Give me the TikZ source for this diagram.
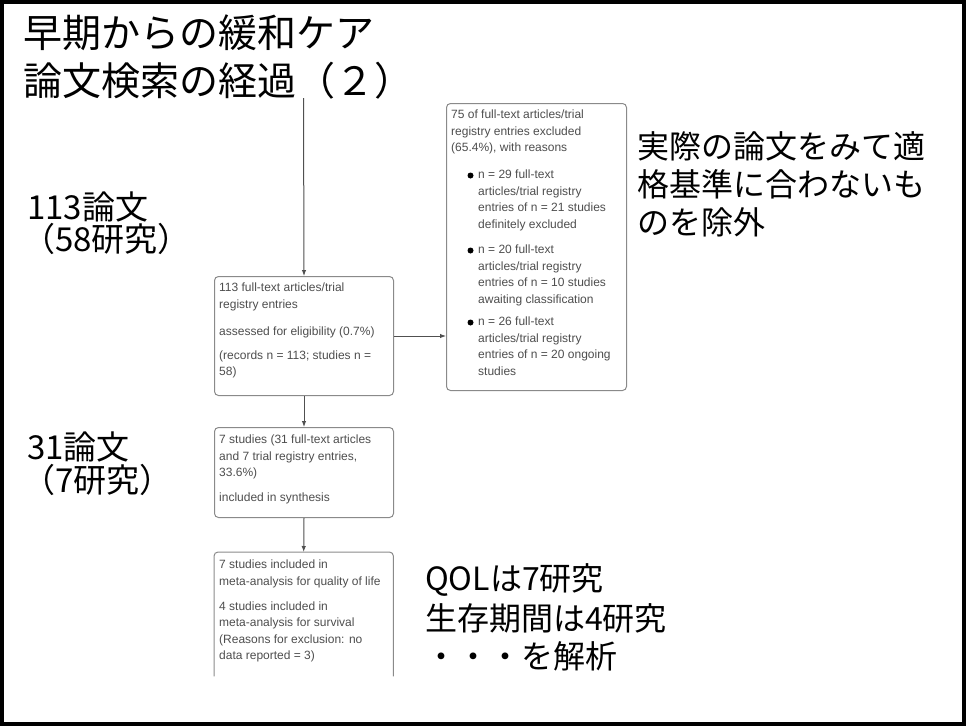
\documentclass[tikz,border=0pt]{standalone}
\usepackage{fontspec}
\setmainfont{Liberation Sans}
\newfontfamily\jp{Noto Sans CJK JP}
\usetikzlibrary{arrows.meta}
\definecolor{boxgray}{HTML}{8A8A8A}
\definecolor{txtgray}{HTML}{4D4D4D}
\definecolor{linegray}{HTML}{505050}
\begin{document}
\begin{tikzpicture}[x=1pt,y=-1pt,
  box/.style={draw=boxgray, line width=1pt, rounded corners=4pt, inner sep=0pt, anchor=north west},
  openbox/.style={draw=none, inner sep=0pt, anchor=north west},
  boxline/.style={draw=boxgray, line width=1pt, rounded corners=4pt},
  txt/.style={font=\fontsize{12}{16.5}\selectfont, text=txtgray, align=left, inner sep=0pt, anchor=north west},
  jtitle/.style={font=\jp\fontsize{39}{45}\selectfont, anchor=west, inner sep=0pt},
  jlabel/.style={font=\jp\fontsize{33}{38}\selectfont, anchor=west, inner sep=0pt},
  jnote/.style={font=\jp\fontsize{32}{38}\selectfont, anchor=west, inner sep=0pt},
  arr/.style={draw=linegray, line width=1pt, -{Latex[length=6pt,width=4.5pt]}},
  bul/.style={fill=black},
]
\useasboundingbox (0,0) rectangle (966,726);
\draw[line width=4pt] (2,2) rectangle (964,724);

% titles and notes
\node[jtitle] (t1) at (23,33) {早期からの緩和ケア};
\node[jtitle] (t2) at (23,81) {論文検索の経過（２）};
\node[jlabel] (l1) at (27,207) {113論文};
\node[jlabel] (l2) at (22,239) {（58研究）};
\node[jlabel] (l3) at (27,447) {31論文};
\node[jlabel] (l4) at (22,480) {（7研究）};
\node[jnote] (r1) at (637,146) {実際の論文をみて適};
\node[jnote] (r2) at (637,184) {格基準に合わないも};
\node[jnote] (r3) at (637,222) {のを除外};
\node[jnote] (q1) at (425,580) {QOLは7研究};
\node[jnote] (q2) at (425,618) {生存期間は4研究};
\node[jnote] (q3) at (425,656) {・・・を解析};

% boxes
\node[box, minimum width=179pt, minimum height=119pt] (a) at (214,276) {};
\node[box, minimum width=180pt, minimum height=287pt] (b) at (446,103) {};
\node[box, minimum width=179pt, minimum height=90pt] (c) at (214,427) {};
\node[openbox, minimum width=179pt, minimum height=124pt] (d) at (214,552) {};
\draw[boxline] (d.south west) -- (d.north west) -- (d.north east) -- (d.south east);

% box texts
\node[txt] (at) at (219,283) {113 full-text articles/trial\\ registry entries\\[11pt] assessed for eligibility (0.7\%)\\[7pt] (records n = 113; studies n =\\ 58)};
\node[txt] (bt) at (451,110) {75 of full-text articles/trial\\ registry entries excluded\\ (65.4\%), with reasons};
\node[txt] (b1) at (478,170) {n = 29 full-text\\ articles/trial registry\\ entries of n = 21 studies\\ definitely excluded};
\node[txt] (b2) at (478,245) {n = 20 full-text\\ articles/trial registry\\ entries of n = 10 studies\\ awaiting classification};
\node[txt] (b3) at (478,317) {n = 26 full-text\\ articles/trial registry\\ entries of n = 20 ongoing\\ studies};
\fill[bul] (b1.north west) ++(-7.5pt,-5.5pt) circle (3pt);
\fill[bul] (b2.north west) ++(-7.5pt,-5.5pt) circle (3pt);
\fill[bul] (b3.north west) ++(-7.5pt,-5.5pt) circle (3pt);
\node[txt] (ct) at (219,435) {7 studies (31 full-text articles\\ and 7 trial registry entries,\\ 33.6\%)\\[8.5pt] included in synthesis};
\node[txt] (dt) at (219,560) {7 studies included in\\ meta-analysis for quality of life\\[8.5pt] 4 studies included in\\ meta-analysis for survival\\ (Reasons for exclusion: no\\ data reported = 3)};

% connectors
\coordinate (top) at (303.5,98);
\draw[arr] (top) -- (a.north);
\draw[arr] (a.south) -- (c.north);
\draw[arr] (c.south) -- (d.north);
\draw[arr] (a.east) -- (a.east -| b.west);
\end{tikzpicture}
\end{document}
